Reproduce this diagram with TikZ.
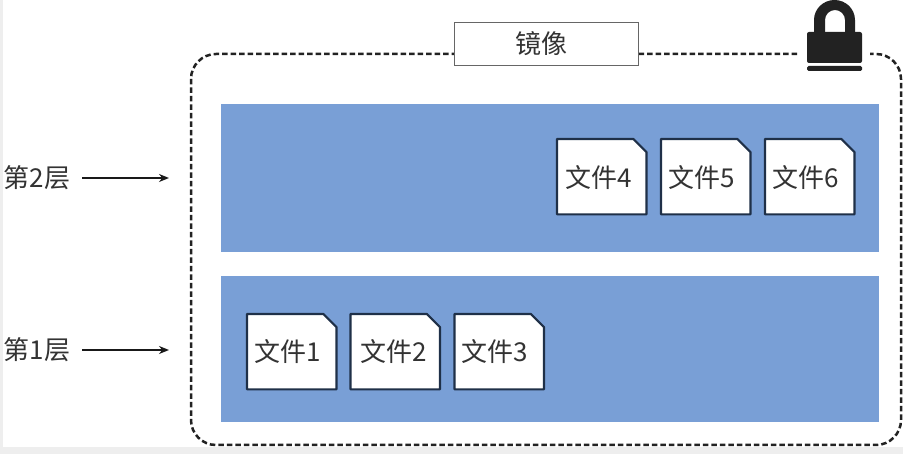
\documentclass[tikz,border=0pt]{standalone}
\usepackage{fontspec}
\setmainfont{Noto Sans CJK SC}
\usetikzlibrary{arrows.meta}
\definecolor{layerblue}{HTML}{799FD6}
\definecolor{fileedge}{HTML}{1F3048}
\definecolor{inkgray}{HTML}{333333}
\definecolor{edgegray}{HTML}{EEEEEE}
\definecolor{lockink}{HTML}{222222}
\tikzset{
  layerbox/.style={fill=layerblue,draw=none,anchor=north west,inner sep=0pt},
  filebox/.style={anchor=north west,minimum width=89pt,minimum height=75pt,inner sep=0pt,
    append after command={
      \pgfextra{\filldraw[fill=white,draw=fileedge,line width=2.2pt,line join=round] (\tikzlastnode.north west) -- ([xshift=-13pt]\tikzlastnode.north east)
        -- ([yshift=-13pt]\tikzlastnode.north east) -- (\tikzlastnode.south east)
        -- (\tikzlastnode.south west) -- cycle;}
    }},
  filetext/.style={text=inkgray,font=\fontsize{26}{28}\selectfont,inner sep=0pt},
  leveltext/.style={text=inkgray,font=\fontsize{26}{28}\selectfont,inner sep=0pt},
  levelarrow/.style={-{Stealth[length=10pt,width=8pt]},black!90,line width=2.5pt},
  frameline/.style={draw=lockink,line width=2.5pt,dash pattern=on 5.5pt off 3pt,rounded corners=25pt},
}
\begin{document}
\begin{tikzpicture}[x=1pt,y=-1pt]
\useasboundingbox (0,0) rectangle (903,454);
\fill[edgegray] (0,0) rectangle (903,454);
\fill[white] (3,0) rectangle (903,447);
\draw[frameline] (191,54) rectangle (901,445);
\node[fill=white,draw=black!60,line width=1.2pt,anchor=north west,minimum width=184pt,minimum height=43pt,inner sep=0pt] (title) at (454,22) {};
\node[filetext] (titletext) at (541,44) {镜像};
\node[layerbox,minimum width=658pt,minimum height=148pt] (layer2) at (221,104) {};
\node[layerbox,minimum width=658pt,minimum height=146pt] (layer1) at (221,276) {};
% lock
\fill[white] (800,0) rectangle (870,72);
\fill[lockink,even odd rule] (814,34) -- (814,20) arc[start angle=180,end angle=0,x radius=20.5pt,y radius=20pt] -- (855,34) -- cycle
  (825,34) -- (825,20) arc[start angle=180,end angle=0,x radius=10pt,y radius=10pt] -- (845,34) -- cycle;
\fill[lockink,rounded corners=2pt] (807,32) rectangle (862,63);
\fill[lockink,rounded corners=1.5pt] (807,66) rectangle (862,71);
% files
\node[filebox] (f4) at (557,139) {};
\node[filebox] (f5) at (661,139) {};
\node[filebox] (f6) at (765,139) {};
\node[filebox] (f1) at (247,314) {};
\node[filebox] (f2) at (350.5,314) {};
\node[filebox] (f3) at (454.5,314) {};
\node[filetext] (t1) at (288,352) {文件1};
\node[filetext] (t2) at (394,352) {文件2};
\node[filetext] (t3) at (495,352) {文件3};
\node[filetext] (t4) at (599,178) {文件4};
\node[filetext] (t5) at (702,178) {文件5};
\node[filetext] (t6) at (806,178) {文件6};
% levels
\node[leveltext] (l2) at (37,178) {第2层};
\node[leveltext] (l1) at (37,350) {第1层};
\coordinate (a2) at (169,178);
\coordinate (a1) at (169,350);
\draw[levelarrow] (82,178) -- (a2);
\draw[levelarrow] (82,350) -- (a1);
\end{tikzpicture}
\end{document}
